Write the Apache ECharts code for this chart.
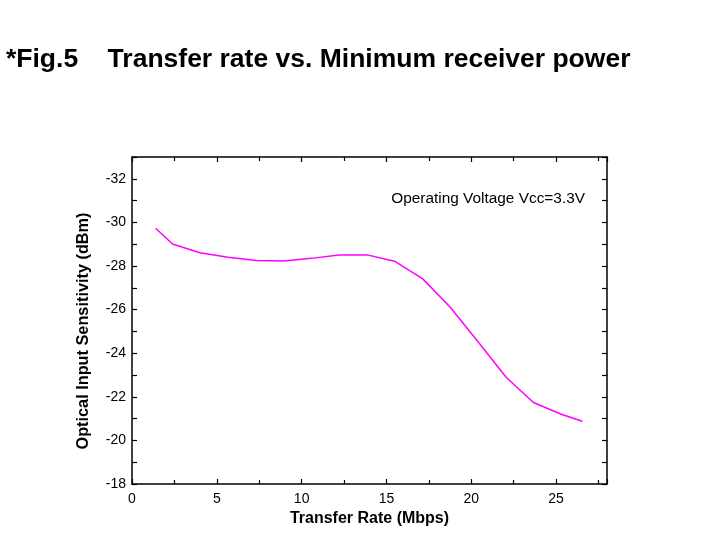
<!DOCTYPE html>
<html>
<head>
<meta charset="utf-8">
<script src="https://cdn.jsdelivr.net/npm/echarts@6/dist/echarts.min.js"></script>
<style>
  html, body { margin: 0; padding: 0; background: #fff; }
  #chart { width: 725px; height: 554px; }
</style>
</head>
<body>
<div id="chart"></div>
<script>
// transfer rate (Mbps) and sensitivity (dBm)
const rate = [1.39, 2.39, 4.0, 5.66, 7.34, 8.96, 10.57, 12.19, 13.86, 15.47, 17.14, 18.76, 20.41, 22.04, 23.66, 25.34, 26.55]
const sensitivity = [-29.73, -29.01, -28.61, -28.40, -28.25, -28.23, -28.35, -28.51, -28.51, -28.22, -27.41, -26.11, -24.51, -22.91, -21.74, -21.19, -20.88]

const font = 'Liberation Sans, Arial, sans-serif'

let chart = echarts.init(document.getElementById('chart'))

let points = rate.map((r, i) => [r, sensitivity[i]])

// shared look for the frame axes
const line = { show: true, onZero: false, lineStyle: { color: '#000', width: 1.5 } }
const tick = { show: true, inside: true, length: 5, lineStyle: { color: '#000', width: 1.2 } }

let option = {
  animation: false,
  title: {
    text: '*Fig.5    Transfer rate vs. Minimum receiver power',
    left: 1,
    top: 41,
    textStyle: { fontFamily: font, fontSize: 26.5, fontWeight: 'bold', color: '#000' }
  },
  graphic: [{
    type: 'text',
    right: 140,
    top: 191,
    style: { text: 'Operating Voltage Vcc=3.3V', fontFamily: font, fontSize: 15.4, fill: '#000' }
  }],
  grid: { left: 132, right: 118, top: 157, bottom: 70 },
  xAxis: [{
    type: 'value',
    min: 0, max: 28, interval: 5,
    name: 'Transfer Rate (Mbps)',
    nameLocation: 'middle',
    nameGap: 27,
    nameTextStyle: { fontFamily: font, fontSize: 16, fontWeight: 'bold', color: '#000' },
    axisLine: line,
    axisTick: tick,
    minorTick: { show: true, splitNumber: 2, length: 4, lineStyle: { color: '#000', width: 1.2 } },
    axisLabel: { fontFamily: font, fontSize: 14, color: '#000', margin: 8, showMaxLabel: false },
    splitLine: { show: false }
  }, {
    type: 'value',
    position: 'top',
    min: 0, max: 28, interval: 5,
    axisLine: line,
    axisTick: tick,
    minorTick: { show: true, splitNumber: 2, length: 4, lineStyle: { color: '#000', width: 1.2 } },
    axisLabel: { show: false },
    splitLine: { show: false }
  }],
  yAxis: [{
    type: 'value',
    inverse: true,
    min: -33, max: -18, interval: 1,
    name: 'Optical Input Sensitivity (dBm)',
    nameLocation: 'middle',
    nameGap: 40,
    nameTextStyle: { fontFamily: font, fontSize: 16.3, fontWeight: 'bold', color: '#000', padding: [0, 21, 0, 0] },
    axisLine: line,
    axisTick: tick,
    axisLabel: {
      fontFamily: font, fontSize: 14, color: '#000', margin: 6,
      formatter: v => (v % 2 === 0 ? String(v) : '')
    },
    splitLine: { show: false }
  }, {
    type: 'value',
    position: 'right',
    inverse: true,
    min: -33, max: -18, interval: 1,
    axisLine: line,
    axisTick: tick,
    axisLabel: { show: false },
    splitLine: { show: false }
  }],
  series: [{
    type: 'line',
    data: points,
    showSymbol: false,
    lineStyle: { color: '#ff00ff', width: 1.5 }
  }]
}

chart.setOption(option)
</script>
</body>
</html>
